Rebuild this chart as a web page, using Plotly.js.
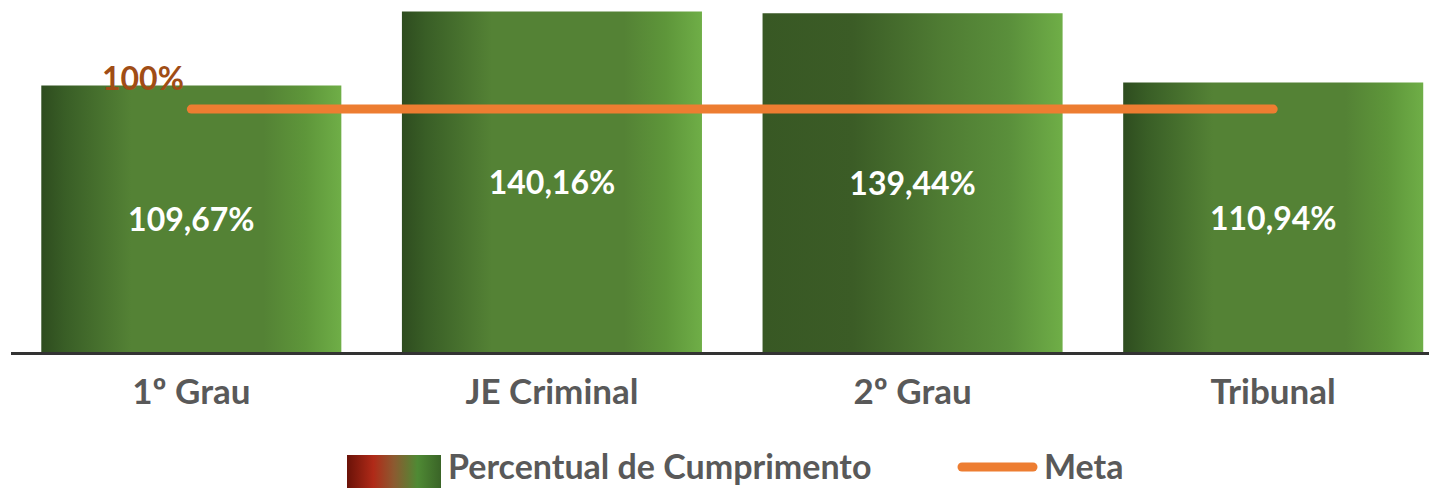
<!DOCTYPE html>
<html>
<head>
<meta charset="utf-8">
<script src="https://cdn.plot.ly/plotly-3.0.1.min.js"></script>
<style>
  html, body { margin: 0; padding: 0; background: #ffffff; }
  #chart { width: 1429px; height: 488px; }
</style>
</head>
<body>
<div id="chart"></div>
<script>
// ---- data ----
const categories = ['1º Grau', 'JE Criminal', '2º Grau', 'Tribunal'];
const percentual = [109.67, 140.16, 139.44, 110.94];
const meta = [100, 100, 100, 100];
const metaLabel = '100%';
const seriesNames = ['Percentual de Cumprimento', 'Meta'];

// ---- layout helpers (pixel geometry of the plot area) ----
const W = 1429, H = 488;
const ML = 11, MR = 0, MT = 0, MB = 136;
const PW = W - ML - MR, PH = H - MT - MB;
const px2x = px => (px - ML) / PW;
const px2y = py => (MT + PH - py) / PH;

const FONT = 'Lato, "Open Sans", "DejaVu Sans", sans-serif';
const GREY = '#595959';

const legendSvg = "<svg xmlns='http://www.w3.org/2000/svg' width='100' height='40' preserveAspectRatio='none' viewBox='0 0 100 40'>" +
  "<defs><linearGradient id='g' x1='0' x2='1' y1='0' y2='0'>" +
  "<stop offset='0' stop-color='#6a1208'/><stop offset='0.28' stop-color='#b02a18'/>" +
  "<stop offset='0.5' stop-color='#8c5a30'/><stop offset='0.75' stop-color='#4f8a34'/>" +
  "<stop offset='1' stop-color='#3a6427'/></linearGradient></defs>" +
  "<rect width='100' height='40' fill='url(#g)'/></svg>";
const legendImg = 'data:image/svg+xml;charset=utf-8,' + encodeURIComponent(legendSvg);

const traces = [
  {
    type: 'bar',
    name: seriesNames[0],
    x: categories,
    y: percentual,
    marker: { color: '#548235', line: { width: 0 } },
    texttemplate: '%{y:.2f}%',
    textposition: 'inside',
    insidetextanchor: 'middle',
    textangle: 0,
    textfont: { family: FONT, size: 32, color: '#ffffff', weight: 700 },
    hoverinfo: 'skip',
    showlegend: false
  },
  {
    type: 'scatter',
    mode: 'lines',
    name: seriesNames[1],
    x: categories,
    y: meta,
    line: { color: '#ed7d31', width: 9 },
    hoverinfo: 'skip',
    showlegend: false
  }
];

const layout = {
  width: W,
  height: H,
  margin: { l: ML, r: MR, t: MT, b: MB, pad: 0 },
  paper_bgcolor: '#ffffff',
  plot_bgcolor: '#ffffff',
  separators: ',.',
  bargap: 0.168,
  showlegend: false,
  xaxis: {
    type: 'category',
    range: [-0.5, 3.432],
    showline: true,
    linecolor: '#333333',
    linewidth: 2.5,
    showgrid: false,
    zeroline: false,
    ticks: '',
    ticklabelstandoff: 7,
    tickfont: { family: FONT, size: 35, color: GREY, weight: 700 },
    fixedrange: true
  },
  yaxis: {
    range: [0, 144.9],
    visible: false,
    showgrid: false,
    zeroline: false,
    fixedrange: true
  },
  annotations: [
    {
      x: categories[0], y: meta[0], xref: 'x', yref: 'y',
      text: metaLabel, showarrow: false,
      xanchor: 'right', yanchor: 'bottom',
      xshift: -5, yshift: 10,
      font: { family: FONT, size: 32, color: '#a04d15', weight: 700 }
    },
    {
      x: px2x(446), y: px2y(465), xref: 'paper', yref: 'paper',
      text: seriesNames[0], showarrow: false,
      xanchor: 'left', yanchor: 'middle',
      font: { family: FONT, size: 34, color: GREY, weight: 700 }
    },
    {
      x: px2x(1042), y: px2y(465), xref: 'paper', yref: 'paper',
      text: seriesNames[1], showarrow: false,
      xanchor: 'left', yanchor: 'middle',
      font: { family: FONT, size: 34, color: GREY, weight: 700 }
    }
  ],
  shapes: [
    {
      type: 'line', xref: 'paper', yref: 'paper',
      x0: px2x(962), x1: px2x(1033), y0: px2y(467), y1: px2y(467),
      line: { color: '#ed7d31', width: 9 }
    }
  ],
  images: [
    {
      source: legendImg, xref: 'paper', yref: 'paper',
      x: px2x(347), y: px2y(455), sizex: 94 / PW, sizey: 36 / PH,
      xanchor: 'left', yanchor: 'top', sizing: 'stretch', layer: 'above'
    }
  ]
};

const gradients = {
  gA: [[0, '#2e4c1f'], [0.08, '#395e26'], [0.3, '#548235'], [0.74, '#548235'], [0.88, '#5e963a'], [1, '#6fae47']],
  gB: [[0, '#385824'], [0.3, '#3b5c26'], [0.6, '#4f7c33'], [0.82, '#5a8f3b'], [1, '#6fae47']]
};
const barGradient = ['gA', 'gA', 'gB', 'gA'];

Plotly.newPlot('chart', traces, layout, { staticPlot: true, displayModeBar: false }).then(gd => {
  const NS = 'http://www.w3.org/2000/svg';
  const svg = gd.querySelector('svg.main-svg');
  const defs = document.createElementNS(NS, 'defs');
  Object.keys(gradients).forEach(id => {
    const lg = document.createElementNS(NS, 'linearGradient');
    lg.setAttribute('id', id);
    lg.setAttribute('x1', '0'); lg.setAttribute('x2', '1');
    lg.setAttribute('y1', '0'); lg.setAttribute('y2', '0');
    gradients[id].forEach(([o, c]) => {
      const s = document.createElementNS(NS, 'stop');
      s.setAttribute('offset', o);
      s.setAttribute('stop-color', c);
      lg.appendChild(s);
    });
    defs.appendChild(lg);
  });
  svg.insertBefore(defs, svg.firstChild);
  gd.querySelectorAll('.barlayer .point path').forEach((p, i) => {
    p.style.fill = 'url(#' + barGradient[i % barGradient.length] + ')';
  });
  gd.querySelectorAll('.scatterlayer .js-line').forEach(p => {
    p.style.strokeLinecap = 'round';
  });
  gd.querySelectorAll('.shapelayer path').forEach(p => {
    p.style.strokeLinecap = 'round';
  });
});
</script>
</body>
</html>
